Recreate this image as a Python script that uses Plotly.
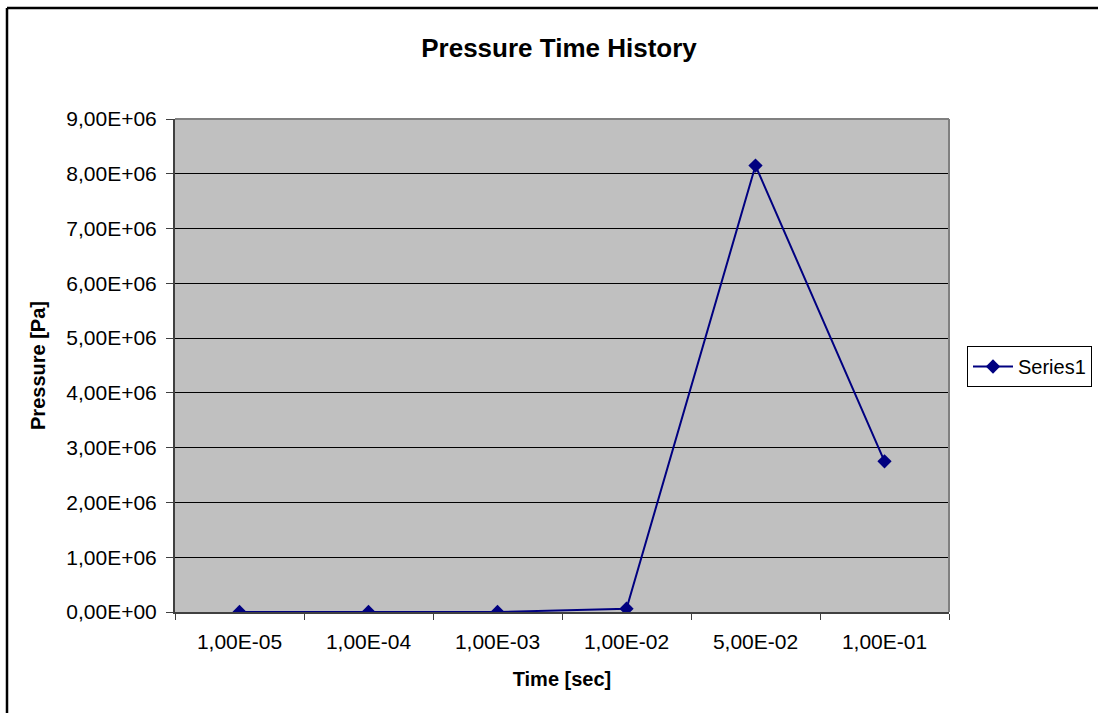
import plotly.graph_objects as go

categories = ["1,00E-05", "1,00E-04", "1,00E-03", "1,00E-02", "5,00E-02", "1,00E-01"]
pressure = [0, 0, 0, 6.0e4, 8.15e6, 2.75e6]
y_tick_vals = [0, 1e6, 2e6, 3e6, 4e6, 5e6, 6e6, 7e6, 8e6, 9e6]
y_tick_text = ["0,00E+00", "1,00E+06", "2,00E+06", "3,00E+06", "4,00E+06",
               "5,00E+06", "6,00E+06", "7,00E+06", "8,00E+06", "9,00E+06"]

W, H = 1098, 713
L, R, T, B = 175, 149, 119, 101
pw, ph = W - L - R, H - T - B

def px_x(p):
    return (p - L) / pw

def px_y(p):
    return (H - B - p) / ph

FONT = "Liberation Sans, Arial, sans-serif"

fig = go.Figure()
fig.add_trace(go.Scatter(
    x=categories, y=pressure, mode="lines+markers", name="Series1",
    line=dict(color="#000080", width=2),
    marker=dict(symbol="diamond", size=11, color="#000080"),
))

fig.update_layout(
    width=W, height=H,
    margin=dict(l=L, r=R, t=T, b=B, autoexpand=False),
    paper_bgcolor="white", plot_bgcolor="#C0C0C0",
    font=dict(family=FONT, size=20, color="black"),
    title=dict(text="<b>Pressure Time History</b>", x=559 / W, xref="container",
               xanchor="center", y=1 - 48 / H, yref="container", yanchor="middle",
               font=dict(size=26, family=FONT, color="black")),
    showlegend=True,
    legend=dict(x=px_x(967), y=px_y(346), xanchor="left", yanchor="top",
                bordercolor="black", borderwidth=1, bgcolor="white",
                font=dict(size=20, family=FONT), itemwidth=40,
                tracegroupgap=0),
)

fig.update_xaxes(
    type="category", range=[-0.5, 5.5],
    showgrid=False, zeroline=False,
    ticks="outside", tickson="boundaries", ticklen=6, tickwidth=1, tickcolor="#404040",
    showline=True, linecolor="#404040", linewidth=2,
    tickfont=dict(size=21, family=FONT), ticklabelstandoff=10,
    title=dict(text="<b>Time [sec]</b>", font=dict(size=20, family=FONT), standoff=20),
)
fig.update_yaxes(
    range=[0, 9e6], tickvals=y_tick_vals, ticktext=y_tick_text,
    showgrid=True, gridcolor="black", gridwidth=1, zeroline=False,
    ticks="outside", ticklen=7, tickwidth=1, tickcolor="#404040",
    showline=True, linecolor="#404040", linewidth=2,
    tickfont=dict(size=21, family=FONT), ticklabelstandoff=5,
    title=dict(text="<b>Pressure [Pa]</b>", font=dict(size=20, family=FONT), standoff=15),
)

# plot area border (top/right gray)
fig.add_shape(type="line", xref="paper", yref="paper", x0=0, x1=1, y0=1, y1=1,
              line=dict(color="#808080", width=2), layer="above")
fig.add_shape(type="line", xref="paper", yref="paper", x0=1, x1=1, y0=0, y1=1,
              line=dict(color="#808080", width=2), layer="above")
# outer chart border (left and top edges only; the rest lies off-canvas)
fig.add_shape(type="line", xref="paper", yref="paper",
              x0=px_x(7), x1=px_x(7), y0=px_y(H + 20), y1=px_y(8),
              line=dict(color="black", width=2.5), layer="above")
fig.add_shape(type="line", xref="paper", yref="paper",
              x0=px_x(7), x1=px_x(W + 20), y0=px_y(8), y1=px_y(8),
              line=dict(color="black", width=2.5), layer="above")

fig.write_html(
    "out.html",
    config={"displayModeBar": False},
    post_script="document.body.style.margin='0';document.body.style.overflow='hidden';"
                "document.documentElement.style.overflow='hidden';",
)
